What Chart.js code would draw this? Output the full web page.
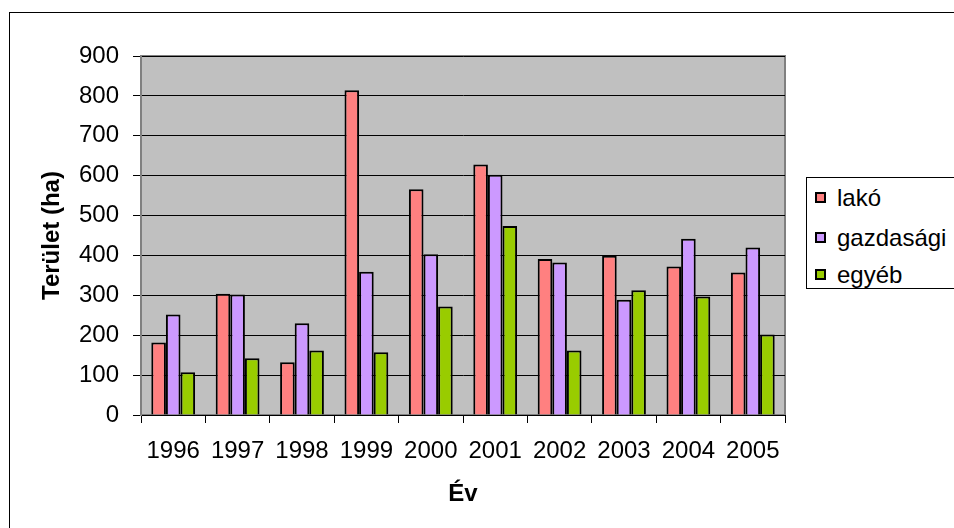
<!DOCTYPE html>
<html>
<head>
<meta charset="utf-8">
<script src="https://cdn.jsdelivr.net/npm/chart.js@4"></script>
<style>
  body { margin: 0; background: #fff; overflow: hidden; }
  #wrap { position: relative; width: 954px; height: 528px; }
  #frame { position: absolute; left: 9px; top: 12px; width: 1000px; height: 600px; border: 1px solid #000; }
  canvas { position: absolute; left: 0; top: 0; }
  #legend {
    position: absolute; left: 806px; top: 177px; width: 170px; height: 110px;
    border: 1px solid #000; background: #fff;
    font-family: Arial, "Liberation Sans", sans-serif; font-size: 24px; color: #000;
  }
  #legend div { position: absolute; left: 8px; height: 28px; line-height: 28px; white-space: nowrap; }
  #legend span.sw { display: inline-block; width: 7px; height: 7px; border: 2px solid #000; margin-right: 11px; vertical-align: 3px; }
</style>
</head>
<body>
<div id="wrap">
  <div id="frame"></div>
  <canvas id="chart" width="954" height="528"></canvas>
  <div id="legend"></div>
</div>
<script>
const years = ["1996", "1997", "1998", "1999", "2000", "2001", "2002", "2003", "2004", "2005"];
const lako = [182, 304, 132, 814, 566, 628, 391, 399, 372, 357];
const gazdasagi = [252, 302, 230, 359, 403, 602, 382, 289, 442, 420];
const egyeb = [107, 142, 162, 157, 272, 474, 162, 313, 297, 202];

const series = [
  { label: "lakó", data: lako, color: "#FF8080" },
  { label: "gazdasági", data: gazdasagi, color: "#CC99FF" },
  { label: "egyéb", data: egyeb, color: "#99CC00" }
];

const font = "Arial, 'Liberation Sans', sans-serif";

// gray plot background with a thin gray frame
const plotBg = {
  id: "plotBg",
  beforeDraw(chart) {
    const { ctx, chartArea: a } = chart;
    ctx.save();
    ctx.fillStyle = "#C0C0C0";
    ctx.fillRect(a.left, a.top, a.right - a.left, a.bottom - a.top);
    ctx.strokeStyle = "#808080";
    ctx.lineWidth = 2;
    ctx.strokeRect(a.left, a.top, a.right - a.left, a.bottom - a.top);
    ctx.restore();
  }
};

new Chart(document.getElementById("chart"), {
  type: "bar",
  data: {
    labels: years,
    datasets: series.map(s => ({
      label: s.label,
      data: s.data,
      backgroundColor: s.color,
      borderColor: "#000",
      borderWidth: 2,
      categoryPercentage: 0.68,
      barPercentage: 1
    }))
  },
  options: {
    responsive: false,
    animation: false,
    layout: { padding: { top: 56, right: 169, bottom: 0, left: 0 } },
    plugins: { legend: { display: false }, tooltip: { enabled: false } },
    scales: {
      x: {
        afterFit: s => { s.height = 113; },
        grid: { offset: true, drawOnChartArea: false, tickLength: 8, tickColor: "#000" },
        border: { color: "#000", width: 1 },
        ticks: { color: "#000", font: { family: font, size: 24 }, padding: 14, maxRotation: 0, autoSkip: false },
        title: { display: true, text: "Év", color: "#000", font: { family: font, size: 24, weight: "bold" }, padding: { top: 0, bottom: 19 } }
      },
      y: {
        min: 0, max: 900,
        afterFit: s => { s.width = 141; },
        grid: { color: "#000", lineWidth: 1, tickLength: 8, tickColor: "#000" },
        border: { color: "#808080", width: 2 },
        ticks: { stepSize: 100, color: "#000", font: { family: font, size: 24 }, padding: 14 },
        title: { display: true, text: "Terület (ha)", color: "#000", font: { family: font, size: 24, weight: "bold" }, padding: { top: 38, bottom: 0 } }
      }
    }
  },
  plugins: [plotBg]
});

const legend = document.getElementById("legend");
series.forEach((s, i) => {
  const row = document.createElement("div");
  row.style.top = [6, 46, 83][i] + "px";
  row.innerHTML = `<span class="sw" style="background:${s.color}"></span>${s.label}`;
  legend.appendChild(row);
});
</script>
</body>
</html>
